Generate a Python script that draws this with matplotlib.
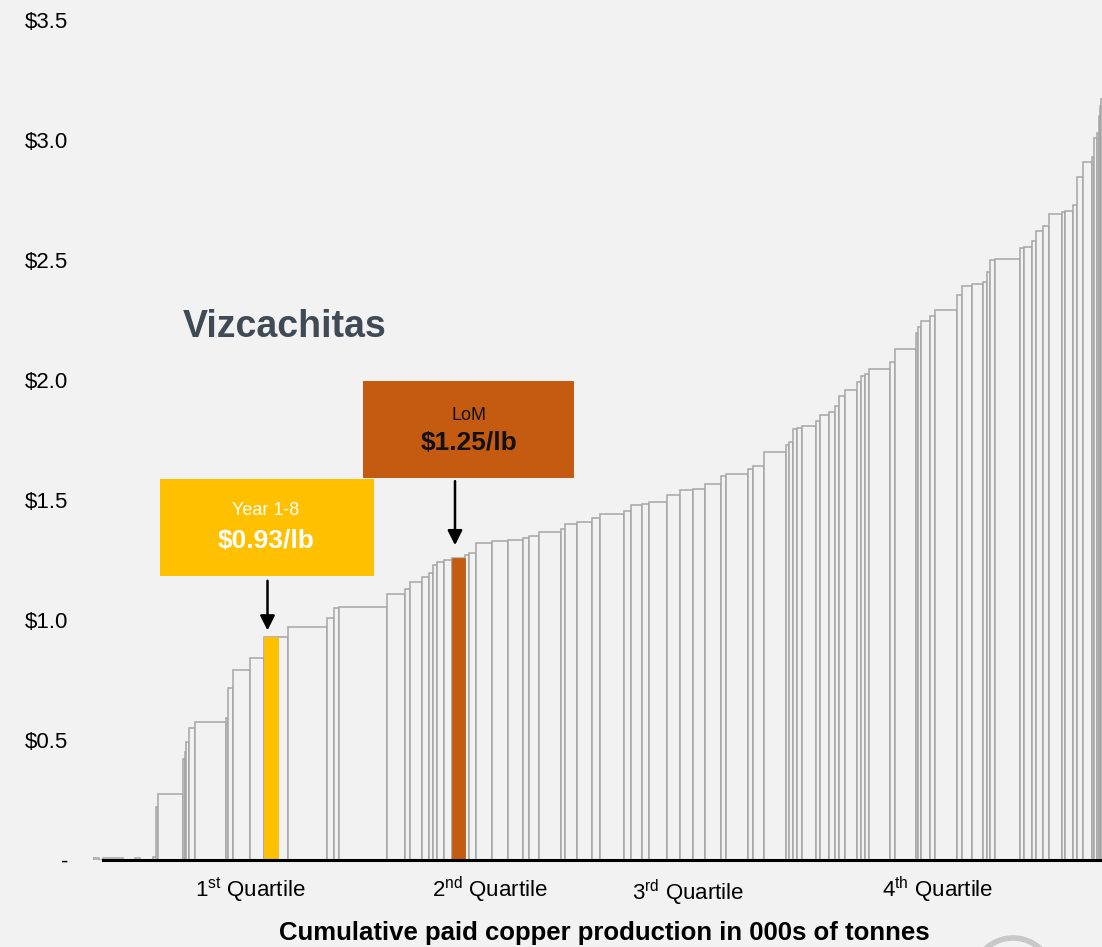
import numpy as np
import matplotlib
matplotlib.use("Agg")
from matplotlib import pyplot as plt
from matplotlib.patches import Rectangle, Ellipse

plt.rcParams['font.family'] = ['Liberation Sans', 'DejaVu Sans']
plt.rcParams['mathtext.fontset'] = 'custom'
plt.rcParams['mathtext.rm'] = 'Liberation Sans'

# cost curve: width of each operation (000s t paid Cu) and cash cost ($/lb), sorted by cost
widths = [120, 80, 400, 240, 100, 260, 60, 40, 500, 40, 20, 60, 120, 620, 40, 100,
          340, 280, 280, 200, 780, 140, 100, 960, 360, 100, 240, 140, 80, 80, 140, 160,
          260, 80, 140, 320, 320, 300, 120, 200, 440, 80, 240, 300, 160, 480, 140, 220,
          140, 360, 260, 260, 240, 320, 100, 440, 100, 220, 440, 60, 80, 80, 100, 280,
          80, 180, 120, 80, 120, 240, 80, 80, 80, 420, 100, 420, 40, 60, 180, 100,
          440, 100, 200, 220, 80, 60, 100, 500, 80, 160, 80, 140, 120, 260, 60, 160,
          80, 120, 180, 40, 60, 40, 20, 20, 60]
costs = [0.01, 0.0, 0.008, 0.0, 0.008, 0.0, 0.012, 0.22, 0.275, 0.42, 0.45, 0.49, 0.55, 0.575, 0.59, 0.715,
         0.79, 0.84, 0.93, 0.93, 0.97, 1.01, 1.05, 1.055, 1.11, 1.13, 1.16, 1.18, 1.196, 1.23, 1.24, 1.25,
         1.26, 1.27, 1.28, 1.32, 1.33, 1.335, 1.34, 1.35, 1.365, 1.38, 1.40, 1.41, 1.425, 1.44, 1.455, 1.48,
         1.485, 1.49, 1.52, 1.54, 1.545, 1.565, 1.60, 1.61, 1.63, 1.64, 1.70, 1.73, 1.74, 1.795, 1.80, 1.81,
         1.83, 1.855, 1.865, 1.89, 1.935, 1.96, 1.99, 2.015, 2.025, 2.045, 2.075, 2.13, 2.195, 2.22, 2.245, 2.265,
         2.29, 2.355, 2.39, 2.40, 2.41, 2.45, 2.50, 2.505, 2.55, 2.555, 2.58, 2.62, 2.64, 2.69, 2.70, 2.705,
         2.73, 2.845, 2.91, 2.93, 3.01, 3.03, 3.10, 3.14, 3.17]

year18_idx = 18   # Vizcachitas year 1-8
lom_idx = 32      # Vizcachitas life of mine
year18_label = "$0.93/lb"
lom_label = "$1.25/lb"

yticks = [0, 0.5, 1.0, 1.5, 2.0, 2.5, 3.0, 3.5]
yticklabels = ["-", "\\$0.5", "\\$1.0", "\\$1.5", "\\$2.0", "\\$2.5", "\\$3.0", "\\$3.5"]
quartiles = ["1$^{\\mathrm{st}}$ Quartile", "2$^{\\mathrm{nd}}$ Quartile",
             "3$^{\\mathrm{rd}}$ Quartile", "4$^{\\mathrm{th}}$ Quartile"]

bg = '#F2F2F2'
W, H = 1102, 947
fig = plt.figure(figsize=(W / 100, H / 100), dpi=100, facecolor=bg)

def fx(px):
    return px / W

def fy(py):
    return 1 - py / H

ax = fig.add_axes([fx(93), fy(860), fx(1009), 840 / H])
ax.set_facecolor(bg)

w = np.array(widths, dtype=float)
c = np.array(costs)
left = np.concatenate([[0], np.cumsum(w)[:-1]])

ax.bar(left, c, width=w, align='edge', color=bg, edgecolor='#A6A6A6', linewidth=1.1, zorder=2)

for idx, col in [(year18_idx, '#FFC000'), (lom_idx, '#C55A11')]:
    ax.bar(left[idx], c[idx], width=w[idx], align='edge', color=col, edgecolor=col,
           linewidth=0.5, zorder=3)

ax.set_xlim(0, 20180)
ax.set_ylim(0, 3.5)
ax.set_yticks(yticks)
ax.set_yticklabels(yticklabels, fontsize=16)
ax.set_xticks([])
ax.tick_params(axis='y', length=0, pad=18)
for s in ['left', 'top', 'right']:
    ax.spines[s].set_visible(False)
ax.spines['bottom'].set_color('black')
ax.spines['bottom'].set_linewidth(2.2)
ax.spines['bottom'].set_bounds(200, 20180)
ax.spines['bottom'].set_zorder(4)

# callout boxes
fig.patches.append(Rectangle((fx(160), fy(576)), fx(214), 97 / H, transform=fig.transFigure,
                             facecolor='#FFC000', edgecolor='none'))
fig.patches.append(Rectangle((fx(363), fy(478)), fx(211), 97 / H, transform=fig.transFigure,
                             facecolor='#C55A11', edgecolor='none'))
fig.text(fx(266), fy(510), "Year 1-8", color='white', fontsize=13, ha='center', va='center')
fig.text(fx(266), fy(541), year18_label, color='white', fontsize=19, fontweight='bold',
         ha='center', va='center')
fig.text(fx(469), fy(415), "LoM", color='#111111', fontsize=13, ha='center', va='center')
fig.text(fx(469), fy(443), lom_label, color='#111111', fontsize=19, fontweight='bold',
         ha='center', va='center')

# arrows down to the highlighted bars
for idx, y_from, y_to in [(year18_idx, 1.175, 0.945), (lom_idx, 1.59, 1.30)]:
    xc = left[idx] + w[idx] / 2 - 70
    ax.annotate("", xy=(xc, y_to), xytext=(xc, y_from),
                arrowprops=dict(arrowstyle='-|>', color='black', lw=1.8, mutation_scale=22),
                zorder=5)

fig.text(fx(183), fy(327), "Vizcachitas", color='#3F4A55', fontsize=27, fontweight='bold',
         ha='left', va='center')

for xq, yq, lab in zip([250, 490, 688, 938], [890, 890, 893, 890], quartiles):
    fig.text(fx(xq), fy(yq), lab, fontsize=16, ha='center', va='center')

fig.text(fx(604), fy(933), "Cumulative paid copper production in 000s of tonnes",
         fontsize=18.5, fontweight='bold', ha='center', va='center')

fig.patches.append(Ellipse((fx(1013), fy(978)), 80 / W, 80 / H, transform=fig.transFigure,
                           fill=False, edgecolor='#C8C8C8', linewidth=4))

fig.savefig("out.png", dpi=100, facecolor=bg)
